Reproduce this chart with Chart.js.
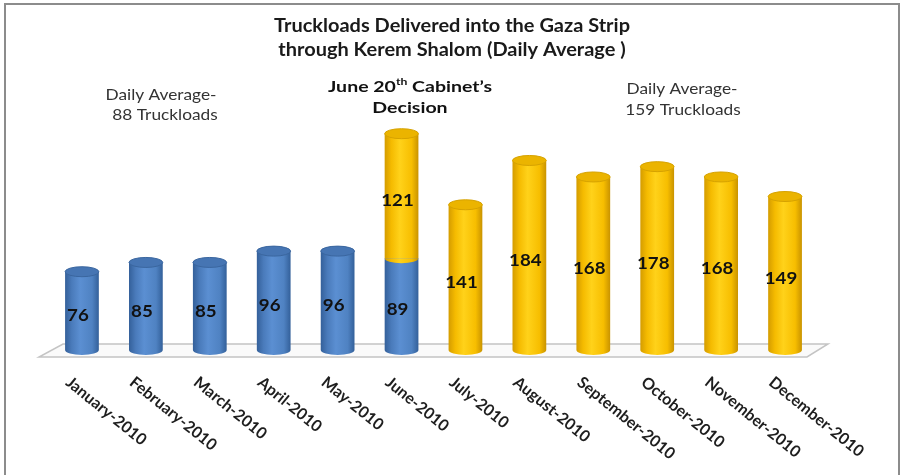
<!DOCTYPE html>
<html>
<head>
<meta charset="utf-8">
<script src="https://cdn.jsdelivr.net/npm/chart.js@4.4.0/dist/chart.umd.min.js"></script>
<style>
  html, body { margin: 0; padding: 0; background: #fff; }
  canvas { display: block; }
</style>
</head>
<body>
<canvas id="gazaChart" width="904" height="475"></canvas>
<script>
// data
var months = ["January-2010", "February-2010", "March-2010", "April-2010", "May-2010", "June-2010",
              "July-2010", "August-2010", "September-2010", "October-2010", "November-2010", "December-2010"];
var beforeDecision = [76, 85, 85, 96, 96, 89, null, null, null, null, null, null];
var afterDecision = [null, null, null, null, null, 121, 141, 184, 168, 178, 168, 149];
var titleLines = ["Truckloads Delivered into the Gaza Strip", "through Kerem Shalom (Daily Average )"];
var leftNote = ["Daily Average-", "88 Truckloads"];
var rightNote = ["Daily Average-", "159 Truckloads"];
var yMax = 250;

var FONT = "Lato, 'Open Sans', sans-serif";
var blueStops = ["#34609a", "#4a7bbb", "#5b8fd2", "#4f82c2", "#33609a"];
var yellowStops = ["#d49c00", "#f5bb00", "#ffd21a", "#f7be00", "#c99300"];
var barShare = 0.8 * 0.66;

function cylinderFill(c, stops) {
  var chart = c.chart, area = chart.chartArea;
  if (!area || c.type !== 'data') return stops[2];
  var x = chart.scales.x.getPixelForValue(c.dataIndex);
  var half = area.width / months.length * barShare / 2;
  var g = chart.ctx.createLinearGradient(x - half, 0, x + half, 0);
  g.addColorStop(0, stops[0]);
  g.addColorStop(0.2, stops[1]);
  g.addColorStop(0.45, stops[2]);
  g.addColorStop(0.8, stops[3]);
  g.addColorStop(1, stops[4]);
  return g;
}

// text drawn a little wider, the reference picture is stretched sideways
function wideText(ctx, txt, x, y, sx) {
  ctx.save();
  ctx.translate(x, y);
  ctx.scale(sx, 1);
  ctx.fillText(txt, 0, 0);
  ctx.restore();
}

var framePlugin = {
  id: 'frame',
  beforeDraw: function(chart) {
    var ctx = chart.ctx;
    ctx.save();
    ctx.fillStyle = '#fff';
    ctx.fillRect(0, 0, chart.width, chart.height);
    ctx.strokeStyle = '#8c8c8c';
    ctx.lineWidth = 2;
    ctx.strokeRect(5, 4, chart.width - 10, chart.height + 20);
    ctx.restore();
  }
};

var floorPlugin = {
  id: 'floor',
  beforeDatasetsDraw: function(chart) {
    var a = chart.chartArea, ctx = chart.ctx;
    ctx.save();
    ctx.beginPath();
    ctx.moveTo(a.left + 13, a.bottom - 6);
    ctx.lineTo(a.right + 11, a.bottom - 6);
    ctx.lineTo(a.right - 10, a.bottom + 7);
    ctx.lineTo(a.left - 11, a.bottom + 7);
    ctx.closePath();
    ctx.fillStyle = '#fafafa';
    ctx.fill();
    ctx.strokeStyle = '#c4c4c4';
    ctx.lineWidth = 1.5;
    ctx.stroke();
    ctx.restore();
  }
};

var cylinderPlugin = {
  id: 'cylinders',
  afterDatasetsDraw: function(chart) {
    var ctx = chart.ctx;
    var sets = chart.data.datasets;
    ctx.save();
    sets.forEach(function(ds, di) {
      var meta = chart.getDatasetMeta(di);
      meta.data.forEach(function(bar, i) {
        if (ds.data[i] == null) return;
        var p = bar.getProps(['x', 'y', 'base', 'width'], true);
        var rx = p.width / 2, ry = 5;
        var g = ctx.createLinearGradient(p.x - rx, 0, p.x + rx, 0);
        var st = ds.stops;
        g.addColorStop(0, st[0]); g.addColorStop(0.2, st[1]); g.addColorStop(0.45, st[2]);
        g.addColorStop(0.8, st[3]); g.addColorStop(1, st[4]);
        ctx.fillStyle = g;
        ctx.beginPath();
        ctx.ellipse(p.x, p.base, rx, ry, 0, 0, Math.PI);
        ctx.fill();
        var onTop = true;
        for (var k = di + 1; k < sets.length; k++) {
          if (sets[k].data[i] != null) onTop = false;
        }
        if (onTop) {
          ctx.beginPath();
          ctx.ellipse(p.x, p.y, rx, ry, 0, 0, Math.PI * 2);
          ctx.fillStyle = ds.capColor;
          ctx.fill();
          ctx.strokeStyle = ds.capEdge;
          ctx.lineWidth = 1;
          ctx.stroke();
        }
      });
    });
    // value labels
    ctx.fillStyle = '#111';
    ctx.font = "bold 17px " + FONT;
    ctx.textAlign = 'center';
    ctx.textBaseline = 'middle';
    sets.forEach(function(ds, di) {
      chart.getDatasetMeta(di).data.forEach(function(bar, i) {
        if (ds.data[i] == null) return;
        var p = bar.getProps(['x', 'y', 'base'], true);
        wideText(ctx, String(ds.data[i]), p.x - 4, (p.y + p.base) / 2 + 5, 1.1);
      });
    });
    ctx.restore();
  }
};

var textPlugin = {
  id: 'texts',
  afterDraw: function(chart) {
    var ctx = chart.ctx, xs = chart.scales.x;
    ctx.save();
    // title
    ctx.fillStyle = '#1a1a1a';
    ctx.font = "bold 18px " + FONT;
    ctx.textAlign = 'center';
    ctx.textBaseline = 'middle';
    wideText(ctx, titleLines[0], 452, 26, 1.11);
    wideText(ctx, titleLines[1], 452, 50, 1.11);

    // notes
    ctx.fillStyle = '#333';
    ctx.font = "16px " + FONT;
    wideText(ctx, leftNote[0], 161, 95, 1.08);
    wideText(ctx, leftNote[1], 165, 115, 1.08);
    wideText(ctx, rightNote[0], 682, 89, 1.08);
    wideText(ctx, rightNote[1], 683, 110, 1.08);

    // June 20th note with superscript
    ctx.fillStyle = '#111';
    var sx = 1.22;
    var a = "June 20", b = " Cabinet\u2019s";
    ctx.font = "bold 16px " + FONT;
    var wa = ctx.measureText(a).width * sx, wb = ctx.measureText(b).width * sx;
    ctx.font = "bold 10px " + FONT;
    var ws = ctx.measureText("th").width * sx;
    var x0 = 410 - (wa + ws + wb) / 2;
    ctx.textAlign = 'left';
    ctx.font = "bold 16px " + FONT;
    wideText(ctx, a, x0, 87, sx);
    ctx.font = "bold 10px " + FONT;
    wideText(ctx, "th", x0 + wa, 82, sx);
    ctx.font = "bold 16px " + FONT;
    wideText(ctx, b, x0 + wa + ws, 87, sx);
    ctx.textAlign = 'center';
    wideText(ctx, "Decision", 410, 108, sx);

    // rotated month labels
    ctx.fillStyle = '#1e1e1e';
    ctx.font = "bold 16px " + FONT;
    ctx.textAlign = 'left';
    ctx.textBaseline = 'top';
    months.forEach(function(m, i) {
      var x = xs.getPixelForValue(i);
      ctx.save();
      ctx.translate(x - 9, 374);
      ctx.rotate(39 * Math.PI / 180);
      ctx.fillText(m, 0, 0);
      ctx.restore();
    });
    ctx.restore();
  }
};

new Chart(document.getElementById('gazaChart').getContext('2d'), {
  type: 'bar',
  data: {
    labels: months,
    datasets: [{
      label: 'Before June 20th',
      data: beforeDecision,
      stops: blueStops,
      capColor: '#4675b3',
      capEdge: '#3a669f',
      backgroundColor: function(c) { return cylinderFill(c, blueStops); },
      categoryPercentage: 0.8,
      barPercentage: 0.66
    }, {
      label: 'After June 20th',
      data: afterDecision,
      stops: yellowStops,
      capColor: '#ebb400',
      capEdge: '#d6a200',
      backgroundColor: function(c) { return cylinderFill(c, yellowStops); },
      categoryPercentage: 0.8,
      barPercentage: 0.66
    }]
  },
  options: {
    responsive: false,
    animation: false,
    layout: { padding: { left: 50, right: 87, top: 92.5, bottom: 125 } },
    plugins: {
      legend: { display: false },
      title: { display: false },
      tooltip: { enabled: false }
    },
    scales: {
      x: { stacked: true, display: false },
      y: { stacked: true, display: false, min: 0, max: yMax }
    }
  },
  plugins: [framePlugin, floorPlugin, cylinderPlugin, textPlugin]
});
</script>
</body>
</html>
